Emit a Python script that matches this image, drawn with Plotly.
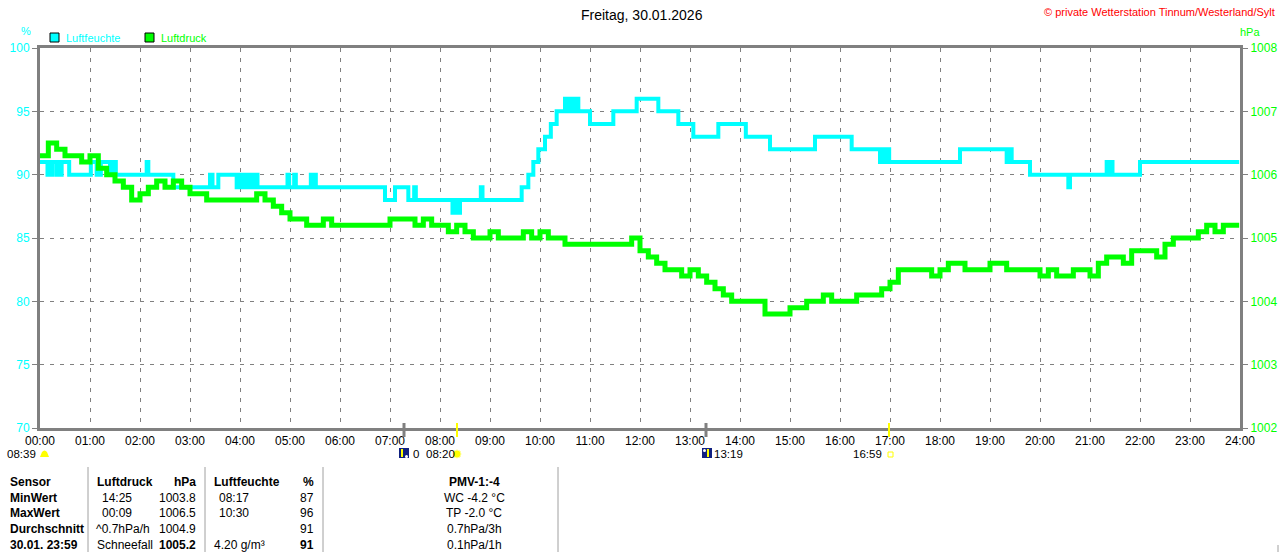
import plotly.graph_objects as go

# ---------------- data ----------------
hours = [f"{h:02d}:00" for h in range(25)]
hour_ticks = [h * 60 for h in range(25)]

# Luftdruck (hPa) every 10 minutes, 00:00 .. 23:59
press_min = list(range(0, 1440, 10)) + [1439]
press_val = [
    1006.3, 1006.5, 1006.4, 1006.3, 1006.3, 1006.2,   # 00:00-00:50
    1006.3, 1006.1, 1006.0, 1005.9, 1005.8, 1005.6,   # 01:00
    1005.7, 1005.8, 1005.9, 1005.8, 1005.9, 1005.8,   # 02:00
    1005.7, 1005.7, 1005.6, 1005.6, 1005.6, 1005.6,   # 03:00
    1005.6, 1005.6, 1005.7, 1005.6, 1005.5, 1005.4,   # 04:00
    1005.3, 1005.3, 1005.2, 1005.2, 1005.3, 1005.2,   # 05:00
    1005.2, 1005.2, 1005.2, 1005.2, 1005.2, 1005.2,   # 06:00
    1005.3, 1005.3, 1005.3, 1005.2, 1005.3, 1005.2,   # 07:00
    1005.2, 1005.1, 1005.2, 1005.1, 1005.0, 1005.0,   # 08:00
    1005.1, 1005.0, 1005.0, 1005.0, 1005.1, 1005.0,   # 09:00
    1005.1, 1005.0, 1005.0, 1004.9, 1004.9, 1004.9,   # 10:00
    1004.9, 1004.9, 1004.9, 1004.9, 1004.9, 1005.0,   # 11:00
    1004.8, 1004.7, 1004.6, 1004.5, 1004.5, 1004.4,   # 12:00
    1004.5, 1004.4, 1004.3, 1004.2, 1004.1, 1004.0,   # 13:00
    1004.0, 1004.0, 1004.0, 1003.8, 1003.8, 1003.8,   # 14:00
    1003.9, 1003.9, 1004.0, 1004.0, 1004.1, 1004.0,   # 15:00
    1004.0, 1004.0, 1004.1, 1004.1, 1004.1, 1004.2,   # 16:00
    1004.3, 1004.5, 1004.5, 1004.5, 1004.5, 1004.4,   # 17:00
    1004.5, 1004.6, 1004.6, 1004.5, 1004.5, 1004.5,   # 18:00
    1004.6, 1004.6, 1004.5, 1004.5, 1004.5, 1004.5,   # 19:00
    1004.4, 1004.5, 1004.4, 1004.4, 1004.5, 1004.5,   # 20:00
    1004.4, 1004.6, 1004.7, 1004.7, 1004.6, 1004.8,   # 21:00
    1004.8, 1004.8, 1004.7, 1004.9, 1005.0, 1005.0,   # 22:00
    1005.0, 1005.1, 1005.2, 1005.1, 1005.2, 1005.2,   # 23:00
    1005.2,
]

# Luftfeuchte (%) step changes: minute of change, new value
hum_min = [0, 9, 12, 13, 15, 20, 22, 24, 26, 35, 61, 68, 69, 72, 73, 84, 86, 88, 89, 91,
           128, 130, 160,
           204, 207, 214, 236, 238, 241, 243, 246, 248, 251, 253, 256, 258, 261,
           297, 299, 305, 307, 325, 327, 329, 331,
           414, 426, 442, 449, 451,
           495, 497, 498, 501, 502, 504, 529, 531,
           578, 586, 592, 598, 606, 613, 620, 630, 634, 636, 640, 642, 646,
           660, 688, 716, 742, 766, 784, 814, 847, 876, 930, 974,
           1008, 1010, 1013, 1015, 1019,
           1104, 1160, 1162, 1166, 1188, 1234, 1236,
           1280, 1282, 1284, 1287, 1320, 1439]
hum_val = [91, 90, 91, 90, 91, 90, 91, 90, 91, 90, 91, 90, 91, 90, 91, 90, 91, 90, 91, 90,
           91, 90, 89,
           90, 89, 90, 89, 90, 89, 90, 89, 90, 89, 90, 89, 90, 89,
           90, 89, 90, 89, 90, 89, 90, 89,
           88, 89, 88, 89, 88,
           87, 88, 87, 88, 87, 88, 89, 88,
           89, 90, 91, 92, 93, 94, 95, 96, 95, 96, 95, 96, 95,
           94, 95, 96, 95, 94, 93, 94, 93, 92, 93, 92,
           91, 92, 91, 92, 91,
           92, 91, 92, 91, 90, 89, 90,
           91, 90, 91, 90, 91, 91]

table_rows = [
    ["Sensor", "Luftdruck", "hPa", "Luftfeuchte", "%", "PMV-1:-4"],
    ["MinWert", "14:25", "1003.8", "08:17", "87", "WC -4.2 °C"],
    ["MaxWert", "00:09", "1006.5", "10:30", "96", "TP -2.0 °C"],
    ["Durchschnitt", "^0.7hPa/h", "1004.9", "", "91", "0.7hPa/3h"],
    ["30.01. 23:59", "Schneefall", "1005.2", "4.20 g/m³", "91", "0.1hPa/1h"],
]

CYAN = "#00FFFF"
GREEN = "#00FF00"
GRAY = "#808080"
FONT = "Liberation Sans"

W, H = 1280, 552
L, R, T, B = 40, 1240, 48, 428


def px(x):
    return (x - L) / (R - L)


def py(y):
    return (B - y) / (B - T)


fig = go.Figure()
fig.add_trace(go.Scatter(x=hum_min, y=hum_val, mode="lines", line=dict(color=CYAN, width=4, shape="hv"),
                         yaxis="y", showlegend=False, hoverinfo="skip"))
fig.add_trace(go.Scatter(x=press_min, y=press_val, mode="lines", line=dict(color=GREEN, width=5, shape="hv"),
                         yaxis="y2", showlegend=False, hoverinfo="skip"))

ann = []
shapes = []

# title & copyright
ann.append(dict(x=px(642), y=py(15), xref="paper", yref="paper", text="Freitag, 30.01.2026", showarrow=False,
                font=dict(family=FONT, size=14, color="#000000"), xanchor="center", yanchor="middle"))
ann.append(dict(x=px(1277), y=py(12), xref="paper", yref="paper", text="© private Wetterstation Tinnum/Westerland/Sylt",
                showarrow=False, font=dict(family=FONT, size=11, color="#FF0000"), xanchor="right", yanchor="middle"))
# unit labels
ann.append(dict(x=px(26), y=py(31), xref="paper", yref="paper", text="%", showarrow=False,
                font=dict(family=FONT, size=11, color=CYAN), xanchor="center", yanchor="middle"))
ann.append(dict(x=px(1250), y=py(32), xref="paper", yref="paper", text="hPa", showarrow=False,
                font=dict(family=FONT, size=11, color=GREEN), xanchor="center", yanchor="middle"))
# legend
for bx, col, name in [(50, CYAN, "Luftfeuchte"), (145, GREEN, "Luftdruck")]:
    shapes.append(dict(type="rect", xref="paper", yref="paper", x0=px(bx), x1=px(bx + 9), y0=py(42), y1=py(33),
                       fillcolor=col, line=dict(color="#000000", width=1)))
    ann.append(dict(x=px(bx + 14), y=py(38), xref="paper", yref="paper", text=name, showarrow=False,
                    font=dict(family=FONT, size=11, color=col), xanchor="left", yanchor="middle"))

# sun / moon markers on the time axis
for xm, col, wd in [(404, GRAY, 3), (457, "#FFFF00", 2), (706, GRAY, 3), (889, "#FFFF00", 2)]:
    shapes.append(dict(type="line", xref="paper", yref="paper", x0=px(xm), x1=px(xm), y0=py(423), y1=py(437),
                       line=dict(color=col, width=wd)))
# icons
for ix in [399, 702]:
    shapes.append(dict(type="rect", xref="paper", yref="paper", x0=px(ix), x1=px(ix + 10), y0=py(458), y1=py(448),
                       fillcolor="#102080", line=dict(width=0)))
    ax = ix + 3 if ix == 399 else ix + 6
    shapes.append(dict(type="line", xref="paper", yref="paper", x0=px(ax), x1=px(ax), y0=py(449), y1=py(457),
                       line=dict(color="#FFFF00", width=2)))
    shapes.append(dict(type="circle", xref="paper", yref="paper", x0=px(ix + (6 if ix == 399 else 1)),
                       x1=px(ix + (9 if ix == 399 else 4)), y0=py(458 if ix == 399 else 452),
                       y1=py(455 if ix == 399 else 449), fillcolor="#FFFFFF", line=dict(width=0)))
shapes.append(dict(type="circle", xref="paper", yref="paper", x0=px(453), x1=px(461), y0=py(458), y1=py(450),
                   fillcolor="#FFFF00", line=dict(color="#FFFFA0", width=1)))
shapes.append(dict(type="path", xref="paper", yref="paper",
                   path=f"M {px(40)} {py(457)} L {px(42)} {py(452)} Q {px(44.5)} {py(449)} {px(47)} {py(452)} L {px(49)} {py(457)} Z",
                   fillcolor="#FFFF00", line=dict(width=0)))
shapes.append(dict(type="rect", xref="paper", yref="paper", x0=px(888), x1=px(893), y0=py(457), y1=py(452),
                   fillcolor="rgba(0,0,0,0)", line=dict(color="#FFFF00", width=1)))
for tx, txt, anc in [(38, "08:39", "right"), (411, "0", "left"), (424, "08:20", "left"),
                     (712, "13:19", "left"), (884, "16:59", "right")]:
    ann.append(dict(x=px(tx), y=py(454), xref="paper", yref="paper", text=txt, showarrow=False,
                    font=dict(family=FONT, size=11.5, color="#000000"), xanchor=anc, yanchor="middle"))

# table
row_y = [482, 498, 513, 529, 545]
cols = [(8, "left"), (95, "left"), (198, "right"), (212, "left"), (316, "right"), (474, "center")]
for ri, row in enumerate(table_rows):
    for ci, txt in enumerate(row):
        if not txt:
            continue
        bold = (ci == 0) or ri == 0 or (ri == 4 and ci in (2, 4))
        xx, anc = cols[ci]
        if ri > 0 and ci in (1, 3) and ri < 3:
            xx += 5
        if ri == 3 and ci == 1:
            xx = 94
        t = f"<b>{txt}</b>" if bold else txt
        ann.append(dict(x=px(xx), y=py(row_y[ri]), xref="paper", yref="paper", text=t, showarrow=False,
                        font=dict(family=FONT, size=12, color="#000000"), xanchor=anc, yanchor="middle"))
for sx in [88, 205, 323, 558]:
    shapes.append(dict(type="line", xref="paper", yref="paper", x0=px(sx), x1=px(sx), y0=py(467), y1=py(552),
                       line=dict(color="#A0A0A0", width=1)))
shapes.append(dict(type="line", xref="paper", yref="paper", x0=px(1278), x1=px(1278), y0=py(545), y1=py(552),
                   line=dict(color="#A0A0A0", width=1)))

fig.update_layout(
    width=W, height=H,
    margin=dict(l=L, r=W - R, t=T, b=H - B, pad=0, autoexpand=False),
    paper_bgcolor="#FFFFFF", plot_bgcolor="#FFFFFF",
    font=dict(family=FONT, size=12, color="#000000"),
    xaxis=dict(range=[0, 1440], tickvals=hour_ticks, ticktext=hours, showgrid=True, gridcolor=GRAY,
               griddash="4px,6px", gridwidth=1, showline=True, linecolor=GRAY, linewidth=3, mirror=True,
               ticks="", tickfont=dict(family=FONT, size=12, color="#000000"), zeroline=False, fixedrange=True,
               automargin=False),
    yaxis=dict(range=[70, 100], dtick=5, tick0=70, showgrid=True, gridcolor=GRAY, griddash="4px,6px", gridwidth=1,
               showline=True, linecolor=GRAY, linewidth=3, ticks="outside", ticklen=5, tickcolor=GRAY,
               tickfont=dict(family=FONT, size=12, color=CYAN), zeroline=False, automargin=False),
    yaxis2=dict(range=[1002, 1008], dtick=1, overlaying="y", side="right", showgrid=False, showline=True,
                linecolor=GRAY, linewidth=3, ticks="outside", ticklen=5, tickcolor=GRAY,
                tickfont=dict(family=FONT, size=12, color=GREEN), zeroline=False, automargin=False),
    annotations=ann, shapes=shapes, showlegend=False,
)

# remove the browser's default 8px page margin so the 1280x552 figure fills the window exactly
fig.write_html("out.html", config={"displayModeBar": False},
               post_script="document.body.style.margin='0';document.body.style.overflow='hidden';")
